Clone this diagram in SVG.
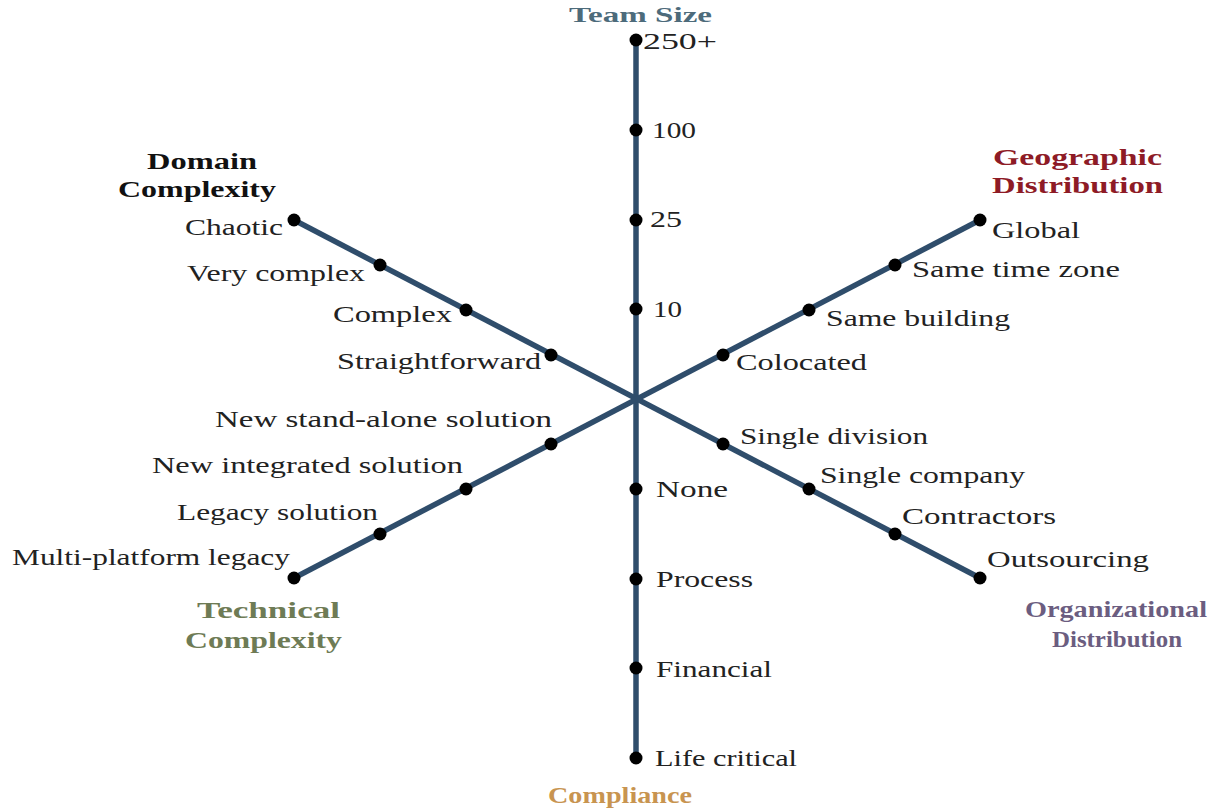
<svg xmlns="http://www.w3.org/2000/svg" width="1215" height="809" viewBox="0 0 1215 809">
<style>
.ax{stroke:#2f4d6b;stroke-width:5.5;stroke-linecap:butt;fill:none}
.dot{fill:#000}
.lb{font-family:"Liberation Serif","Times New Roman",serif;font-size:24px;fill:#222}
.tt{font-family:"Liberation Serif","Times New Roman",serif;font-size:23px;font-weight:bold}
</style>
<rect width="1215" height="809" fill="#fff"/>
<g id="connectors">
<line class="ax" x1="636" y1="40" x2="636" y2="758"/>
<line class="ax" x1="294" y1="220" x2="980" y2="578"/>
<line class="ax" x1="294" y1="578" x2="980" y2="220"/>
</g>
<g id="titles">
<g id="title-team-size"><text class="tt" x="569" y="21.5" fill="#4d6b7b" style="font-size:22px" textLength="143" lengthAdjust="spacingAndGlyphs">Team Size</text></g>
<g id="title-domain"><text class="tt" x="147" y="169" fill="#111" textLength="110" lengthAdjust="spacingAndGlyphs">Domain</text><text class="tt" x="118" y="197" fill="#111" textLength="158" lengthAdjust="spacingAndGlyphs">Complexity</text></g>
<g id="title-geo"><text class="tt" x="993" y="165" fill="#8e1b26" textLength="169" lengthAdjust="spacingAndGlyphs">Geographic</text><text class="tt" x="992" y="193" fill="#8e1b26" textLength="171" lengthAdjust="spacingAndGlyphs">Distribution</text></g>
<g id="title-tech"><text class="tt" x="197" y="618" fill="#6e7b55" textLength="143" lengthAdjust="spacingAndGlyphs">Technical</text><text class="tt" x="185" y="648" fill="#6e7b55" textLength="157" lengthAdjust="spacingAndGlyphs">Complexity</text></g>
<g id="title-org"><text class="tt" x="1025" y="617" fill="#6b5d80" textLength="182" lengthAdjust="spacingAndGlyphs">Organizational</text><text class="tt" x="1052" y="647" fill="#6b5d80" textLength="130" lengthAdjust="spacingAndGlyphs">Distribution</text></g>
<g id="title-compliance"><text class="tt" x="548" y="803" fill="#c89450" textLength="144" lengthAdjust="spacingAndGlyphs">Compliance</text></g>
</g>
<g id="team-250"><circle class="dot" cx="636" cy="40" r="6.5"/><text class="lb" x="643" y="49" textLength="74" lengthAdjust="spacingAndGlyphs">250+</text></g>
<g id="team-100"><circle class="dot" cx="636" cy="130" r="6.5"/><text class="lb" x="652" y="138" textLength="44" lengthAdjust="spacingAndGlyphs">100</text></g>
<g id="team-25"><circle class="dot" cx="636" cy="220" r="6.5"/><text class="lb" x="650" y="227" textLength="32" lengthAdjust="spacingAndGlyphs">25</text></g>
<g id="team-10"><circle class="dot" cx="636" cy="309" r="6.5"/><text class="lb" x="653" y="317" textLength="29" lengthAdjust="spacingAndGlyphs">10</text></g>
<g id="comp-none"><circle class="dot" cx="636" cy="489" r="6.5"/><text class="lb" x="656" y="497" textLength="72" lengthAdjust="spacingAndGlyphs">None</text></g>
<g id="comp-process"><circle class="dot" cx="636" cy="579" r="6.5"/><text class="lb" x="656" y="587" textLength="97" lengthAdjust="spacingAndGlyphs">Process</text></g>
<g id="comp-financial"><circle class="dot" cx="636" cy="668" r="6.5"/><text class="lb" x="656" y="677" textLength="116" lengthAdjust="spacingAndGlyphs">Financial</text></g>
<g id="comp-life"><circle class="dot" cx="636" cy="758" r="6.5"/><text class="lb" x="655" y="766" textLength="142" lengthAdjust="spacingAndGlyphs">Life critical</text></g>
<g id="dom-chaotic"><circle class="dot" cx="294" cy="220" r="6.5"/><text class="lb" x="185" y="235" textLength="98" lengthAdjust="spacingAndGlyphs">Chaotic</text></g>
<g id="dom-very"><circle class="dot" cx="380" cy="265" r="6.5"/><text class="lb" x="187" y="281" textLength="178" lengthAdjust="spacingAndGlyphs">Very complex</text></g>
<g id="dom-complex"><circle class="dot" cx="466" cy="310" r="6.5"/><text class="lb" x="333" y="322" textLength="119" lengthAdjust="spacingAndGlyphs">Complex</text></g>
<g id="dom-straight"><circle class="dot" cx="551" cy="355" r="6.5"/><text class="lb" x="337" y="369" textLength="204" lengthAdjust="spacingAndGlyphs">Straightforward</text></g>
<g id="tech-standalone"><circle class="dot" cx="551" cy="444" r="6.5"/><text class="lb" x="215" y="427" textLength="337" lengthAdjust="spacingAndGlyphs">New stand-alone solution</text></g>
<g id="tech-integrated"><circle class="dot" cx="466" cy="489" r="6.5"/><text class="lb" x="152" y="473" textLength="311" lengthAdjust="spacingAndGlyphs">New integrated solution</text></g>
<g id="tech-legacy"><circle class="dot" cx="380" cy="534" r="6.5"/><text class="lb" x="177" y="520" textLength="201" lengthAdjust="spacingAndGlyphs">Legacy solution</text></g>
<g id="tech-multi"><circle class="dot" cx="294" cy="578" r="6.5"/><text class="lb" x="12" y="565" textLength="278" lengthAdjust="spacingAndGlyphs">Multi-platform legacy</text></g>
<g id="geo-global"><circle class="dot" cx="980" cy="220" r="6.5"/><text class="lb" x="992" y="238" textLength="88" lengthAdjust="spacingAndGlyphs">Global</text></g>
<g id="geo-timezone"><circle class="dot" cx="895" cy="265" r="6.5"/><text class="lb" x="912" y="277" textLength="208" lengthAdjust="spacingAndGlyphs">Same time zone</text></g>
<g id="geo-building"><circle class="dot" cx="809" cy="310" r="6.5"/><text class="lb" x="826" y="326" textLength="184" lengthAdjust="spacingAndGlyphs">Same building</text></g>
<g id="geo-colocated"><circle class="dot" cx="723" cy="355" r="6.5"/><text class="lb" x="736" y="370" textLength="131" lengthAdjust="spacingAndGlyphs">Colocated</text></g>
<g id="org-division"><circle class="dot" cx="723" cy="444" r="6.5"/><text class="lb" x="740" y="444" textLength="188" lengthAdjust="spacingAndGlyphs">Single division</text></g>
<g id="org-company"><circle class="dot" cx="809" cy="489" r="6.5"/><text class="lb" x="820" y="483" textLength="205" lengthAdjust="spacingAndGlyphs">Single company</text></g>
<g id="org-contractors"><circle class="dot" cx="895" cy="534" r="6.5"/><text class="lb" x="902" y="524" textLength="154" lengthAdjust="spacingAndGlyphs">Contractors</text></g>
<g id="org-outsourcing"><circle class="dot" cx="980" cy="578" r="6.5"/><text class="lb" x="987" y="567" textLength="162" lengthAdjust="spacingAndGlyphs">Outsourcing</text></g>
</svg>
